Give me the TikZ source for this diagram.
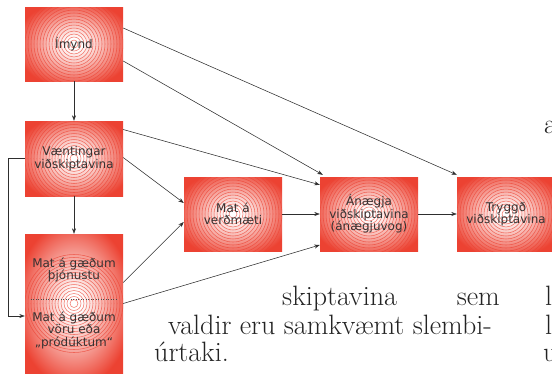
\documentclass[tikz,border=0pt]{standalone}
\usepackage{fontspec}
\usepackage{xcolor}
\usepackage{tikz}
\usetikzlibrary{positioning,calc,arrows.meta}
\newfontfamily\boxfont{DejaVu Sans}
\definecolor{ringred}{RGB}{236,66,50}
\definecolor{boxtext}{RGB}{55,50,50}
\definecolor{pagetext}{RGB}{35,35,35}
\pgfdeclareradialshading{ringshade}{\pgfpoint{0bp}{0bp}}{color(0bp)=(white); color(4bp)=(white); color(12bp)=(ringred!28); color(22bp)=(ringred!68); color(30bp)=(ringred); color(50bp)=(ringred)}

\begin{document}
\begin{tikzpicture}[x=1pt, y=-1pt,
    box/.style={rectangle, shade, shading=ringshade, minimum width=98pt, minimum height=74pt,
        inner sep=0pt, align=center, text=boxtext,
        font=\boxfont\fontsize{12}{12.5}\selectfont,
        path picture={
            \foreach \r in {4,7,...,49}
                \draw[ringred, line width=0.55pt, opacity=0.7] (path picture bounding box.center) circle[radius=\r pt];
        }},
    arr/.style={-{Stealth[length=5.5pt,width=4pt]}, draw=black!82, line width=0.55pt},
    pagefont/.style={text=pagetext, inner sep=0pt, anchor=base west, font=\fontsize{28}{30}\selectfont}]
    \useasboundingbox (0,0) rectangle (552,381);

    % Boxes
    \node[box] (imynd) at (74,44) {Ímynd};
    \node[box, minimum height=75pt] (vaenting) at (74,158.5) {Væntingar\\viðskiptavina};
    \node[box, minimum height=139pt] (gaedi) at (74,303.5) {};
    \node[box] (verdm) at (233,214) {Mat á\\verðmæti};
    \node[box] (anaegja) at (369,214) {Ánægja\\viðskiptavina\\(ánægjuvog)};
    \node[box] (tryggd) at (506,214) {Tryggð\\viðskiptavina};

    % Two parts of the quality box
    \node[align=center, text=boxtext, font=\boxfont\fontsize{12}{12.5}\selectfont] (thjon) at (74,270) {Mat á gæðum\\þjónustu};
    \node[align=center, text=boxtext, font=\boxfont\fontsize{12}{12.5}\selectfont] (voru) at (74,330) {Mat á gæðum\\vöru eða\\„pródúktum“};
    \draw[dotted, black!70, line width=0.5pt] ([xshift=6pt,yshift=4.5pt]gaedi.west) -- ([xshift=-6pt,yshift=4.5pt]gaedi.east);

    % Connectors
    \draw[arr] (imynd) -- (vaenting);
    \draw[arr] ([yshift=16pt]imynd.east) -- ([yshift=2pt]tryggd.north west);
    \draw[arr] ([yshift=-17pt]imynd.east) -- ([xshift=3pt,yshift=2pt]anaegja.north west);
    \draw[arr] ([yshift=29pt]vaenting.east) -- ([yshift=-8pt]anaegja.north west);
    \draw[arr] ([yshift=1pt]vaenting.east) -- ([yshift=11pt]verdm.west);
    \draw[arr] (vaenting) -- (gaedi);
    \draw[arr] (vaenting.west) -- ++(-17,0) |- ([yshift=-12.5pt]gaedi.west);
    \draw[arr] ([yshift=21pt]gaedi.east) -- ([yshift=-8pt]verdm.west);
    \draw[arr] (gaedi.east) -- ([yshift=-31pt]anaegja.west);
    \draw[arr] (verdm) -- (anaegja);
    \draw[arr] (anaegja) -- (tryggd);

    % Page text around the figure
    \node[pagefont] (l1a) at (282,305) {skiptavina};
    \node[pagefont, anchor=base east] (l1b) at (500,305) {sem};
    \node[pagefont] (l2) at (168,334) {valdir eru samkvæmt slembi-};
    \node[pagefont] (l3) at (154,361) {úrtaki.};
    \node[pagefont] (r0) at (544,133) {a};
    \node[pagefont] (r1) at (545,305) {l};
    \node[pagefont] (r2) at (545,334) {l};
    \node[pagefont] (r3) at (543,361) {u};
\end{tikzpicture}
\end{document}
